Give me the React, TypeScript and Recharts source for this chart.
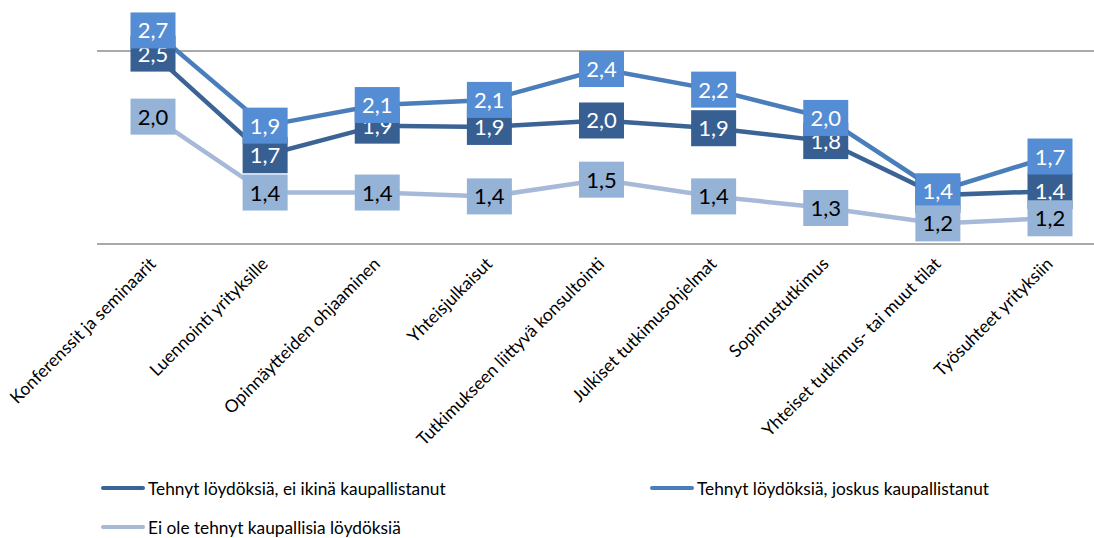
import { LineChart, Line, XAxis, YAxis, ReferenceLine } from 'recharts';

const categories = [
  'Konferenssit ja seminaarit',
  'Luennointi yrityksille',
  'Opinnäytteiden ohjaaminen',
  'Yhteisjulkaisut',
  'Tutkimukseen liittyvä konsultointi',
  'Julkiset tutkimusohjelmat',
  'Sopimustutkimus',
  'Yhteiset tutkimus- tai muut tilat',
  'Työsuhteet yrityksiin',
];

const eiKaupallistanut = [2.48, 1.69, 1.92, 1.91, 1.96, 1.9, 1.8, 1.38, 1.41];
const joskusKaupallistanut = [2.66, 1.92, 2.08, 2.12, 2.36, 2.2, 1.98, 1.41, 1.68];
const eiLoydoksia = [1.99, 1.4, 1.4, 1.37, 1.5, 1.37, 1.28, 1.16, 1.2];

const gridTicks = [1, 2.5];

const series = [
  { key: 'a', name: 'Tehnyt löydöksiä, ei ikinä kaupallistanut', line: '#3b6395', box: '#375f92', text: '#ffffff' },
  { key: 'b', name: 'Tehnyt löydöksiä, joskus kaupallistanut', line: '#4a7ebb', box: '#548dd4', text: '#ffffff' },
  { key: 'c', name: 'Ei ole tehnyt kaupallisia löydöksiä', line: '#a7b9d8', box: '#95b3d7', text: '#000000' },
];

const data = categories.map((name, i) => ({
  name,
  a: eiKaupallistanut[i],
  b: joskusKaupallistanut[i],
  c: eiLoydoksia[i],
}));

const font = 'Lato, "Open Sans", sans-serif';
const fmt = (v: number) => v.toFixed(1).replace('.', ',');

function CategoryTick({ x, y, payload }: any) {
  return (
    <text
      x={x + 4}
      y={y + 21}
      transform={`rotate(-45, ${x + 4}, ${y + 21})`}
      textAnchor="end"
      fontSize={17.5}
      fontFamily={font}
      fill="#000"
    >
      {payload.value}
    </text>
  );
}

function boxLabel(box: string, color: string) {
  return (props: any) => {
    const { x, y, value } = props;
    if (value == null) return null;
    return (
      <g>
        <rect x={x - 22.5} y={y - 18} width={45} height={36} fill={box} />
        <text x={x} y={y + 8} textAnchor="middle" fontSize={22} fontFamily={font} fill={color}>
          {fmt(value)}
        </text>
      </g>
    );
  };
}

const legendPos = [
  { left: 101, top: 488 },
  { left: 650, top: 488 },
  { left: 101, top: 527 },
];

export default function App() {
  return (
    <div style={{ position: 'absolute', left: 0, top: 0, width: 1094, height: 538, overflow: 'hidden', background: '#fff', fontFamily: font }}>
      <LineChart width={1110} height={538} data={data} margin={{ top: 6, right: 4, left: 97, bottom: 0 }}>
        <XAxis
          dataKey="name"
          axisLine={false}
          tickLine={false}
          tickSize={0}
          tickMargin={0}
          interval={0}
          height={294}
          padding={{ left: 56, right: 56 }}
          tick={<CategoryTick />}
        />
        <YAxis hide width={0} type="number" domain={[1, 2.85]} ticks={gridTicks} />
        {gridTicks.map(t => (
          <ReferenceLine key={'grid-' + t} y={t} stroke="#8c8c8c" strokeWidth={1.5} />
        ))}
        {series.map(s => (
          <Line
            key={'line-' + s.key}
            dataKey={s.key}
            stroke={s.line}
            strokeWidth={4.5}
            dot={false}
            activeDot={false}
            isAnimationActive={false}
          />
        ))}
        {series.map(s => (
          <Line
            key={'label-' + s.key}
            dataKey={s.key}
            stroke="none"
            dot={false}
            activeDot={false}
            legendType="none"
            isAnimationActive={false}
            label={boxLabel(s.box, s.text)}
          />
        ))}
      </LineChart>
      {series.map((s, i) => (
        <div
          key={'legend-' + s.key}
          style={{ position: 'absolute', left: legendPos[i].left, top: legendPos[i].top - 12, height: 24, display: 'flex', alignItems: 'center' }}
        >
          <span style={{ display: 'inline-block', width: 44, height: 4, borderRadius: 2, background: s.line }} />
          <span style={{ marginLeft: 3, fontSize: 17.3, color: '#000', whiteSpace: 'nowrap' }}>{s.name}</span>
        </div>
      ))}
    </div>
  );
}
